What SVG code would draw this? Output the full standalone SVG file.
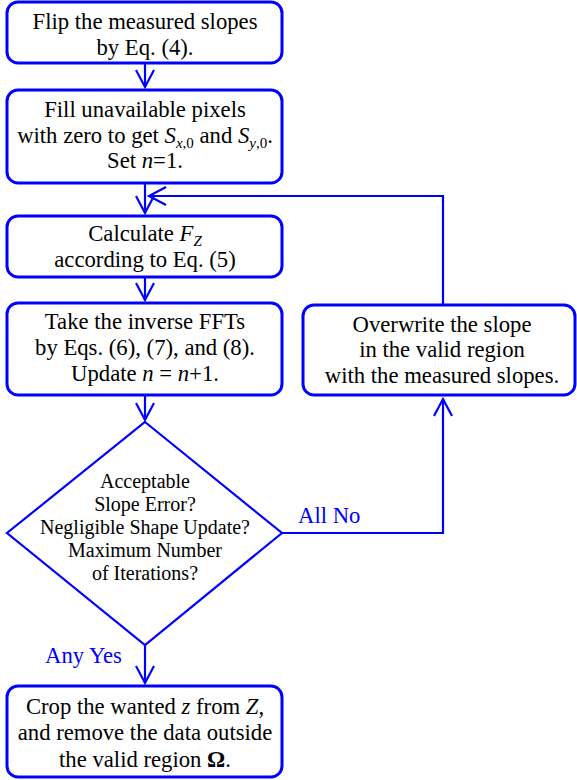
<svg xmlns="http://www.w3.org/2000/svg" width="577" height="780" viewBox="0 0 577 780">
<defs>
<style>
.box{fill:#fff;stroke:#0000ff;stroke-width:3}
.dia{fill:#fff;stroke:#0000ff;stroke-width:2.2}
.ln{fill:none;stroke:#0000ff;stroke-width:2.2}
.t{font-family:Liberation Serif,Times New Roman,serif;font-size:22.7px;fill:#000;text-anchor:middle}
.d{font-size:20px}
.lab{fill:#0000ff;text-anchor:start}
.i{font-style:italic}
.s{font-size:15px}
</style>
<marker id="ah" markerUnits="userSpaceOnUse" viewBox="-20 -10 22 20" refX="0" refY="0" markerWidth="22" markerHeight="20" orient="auto" overflow="visible">
<path d="M-17,-9 L0,0 L-17,9" fill="none" stroke="#0000ff" stroke-width="2.2"/>
</marker>
</defs>
<rect width="577" height="780" fill="#fff"/>
<g id="connectors">
<line class="ln" x1="145" y1="63" x2="145" y2="87" marker-end="url(#ah)"/>
<line class="ln" x1="145" y1="183" x2="145" y2="213" marker-end="url(#ah)"/>
<polyline class="ln" points="443,305 443,196 149,196" marker-end="url(#ah)"/>
<line class="ln" x1="145" y1="277" x2="145" y2="300" marker-end="url(#ah)"/>
<line class="ln" x1="145" y1="395" x2="145" y2="420" marker-end="url(#ah)"/>
<polyline class="ln" points="282,533 443,533 443,399" marker-end="url(#ah)"/>
<line class="ln" x1="145" y1="645" x2="145" y2="683" marker-end="url(#ah)"/>
<text class="t lab" x="298" y="523">All No</text>
<text class="t lab" x="45" y="663">Any Yes</text>
</g>
<g id="n1">
<rect class="box" x="7" y="2" width="275" height="61" rx="11"/>
<text class="t" x="145" y="29">Flip the measured slopes</text>
<text class="t" x="145" y="55">by Eq.  (4).</text>
</g>
<g id="n2">
<rect class="box" x="7" y="90" width="275" height="93" rx="11"/>
<text class="t" x="145" y="117">Fill unavailable pixels</text>
<text class="t" x="145" y="143">with zero to get <tspan class="i">S</tspan><tspan class="s" dy="5"><tspan class="i">x</tspan>,0</tspan><tspan dy="-5"> and </tspan><tspan class="i">S</tspan><tspan class="s" dy="5"><tspan class="i">y</tspan>,0</tspan><tspan dy="-5">.</tspan></text>
<text class="t" x="145" y="168">Set <tspan class="i">n</tspan>=1.</text>
</g>
<g id="n3">
<rect class="box" x="7" y="216" width="275" height="61" rx="11"/>
<text class="t" x="145" y="241">Calculate <tspan class="i">F</tspan><tspan class="s i" dy="5">Z</tspan></text>
<text class="t" x="145" y="267">according to Eq. (5)</text>
</g>
<g id="n4">
<rect class="box" x="7" y="303" width="275" height="92" rx="11"/>
<text class="t" x="145" y="329">Take the inverse FFTs</text>
<text class="t" x="145" y="355">by Eqs. (6), (7), and (8).</text>
<text class="t" x="145" y="381">Update <tspan class="i">n</tspan> = <tspan class="i">n</tspan>+1.</text>
</g>
<g id="n5">
<rect class="box" x="303" y="305" width="272" height="90" rx="11"/>
<text class="t" x="442" y="332">Overwrite the slope</text>
<text class="t" x="442" y="357">in the valid region</text>
<text class="t" x="442" y="383">with the measured slopes.</text>
</g>
<g id="n6">
<polygon class="dia" points="145,422 282,533 145,645 7,533"/>
<text class="t d" x="145" y="488">Acceptable</text>
<text class="t d" x="145" y="511">Slope Error?</text>
<text class="t d" x="145" y="534">Negligible Shape Update?</text>
<text class="t d" x="145" y="557">Maximum Number</text>
<text class="t d" x="145" y="580">of Iterations?</text>
</g>
<g id="n7">
<rect class="box" x="7" y="686" width="275" height="91" rx="11"/>
<text class="t" x="145" y="714">Crop the wanted <tspan class="i">z</tspan> from <tspan class="i">Z</tspan>,</text>
<text class="t" x="145" y="740">and remove the data outside</text>
<text class="t" x="145" y="767">the valid region <tspan font-weight="bold">Ω</tspan>.</text>
</g>
</svg>
